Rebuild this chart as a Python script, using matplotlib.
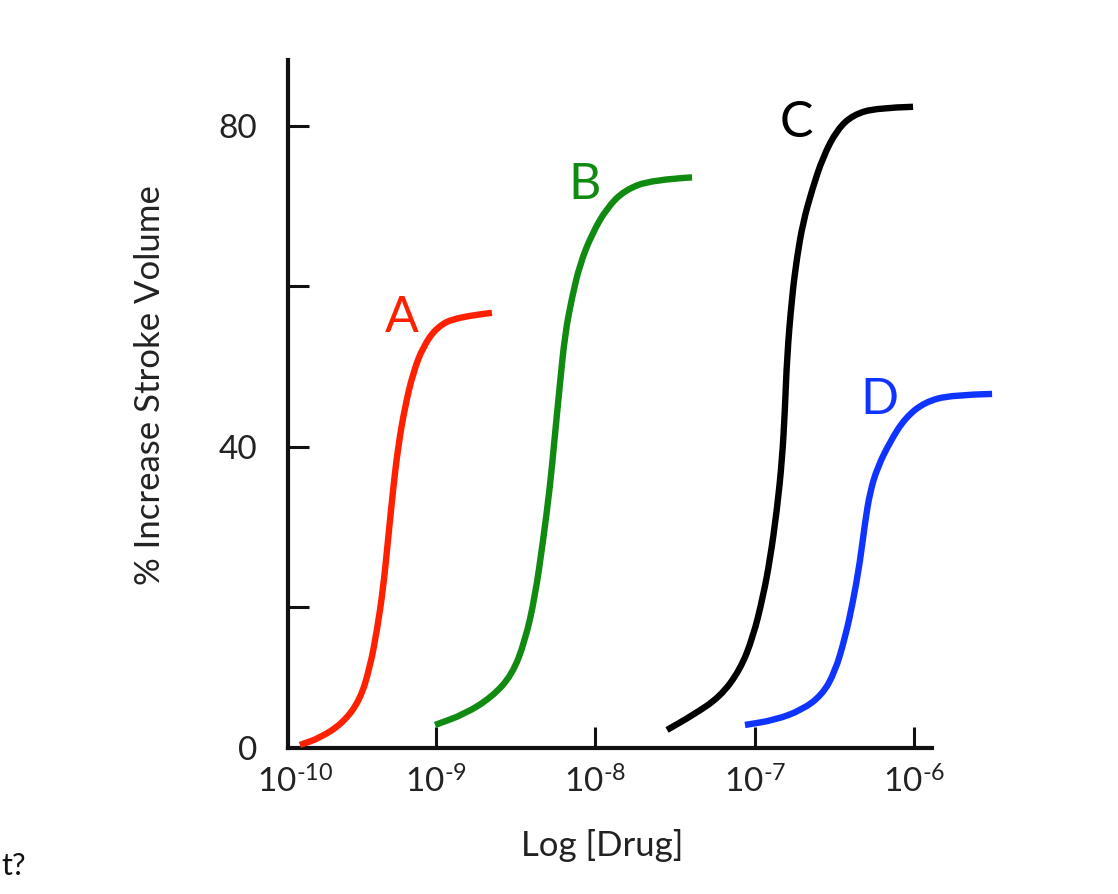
import matplotlib
matplotlib.use("Agg")
import matplotlib.pyplot as plt
from matplotlib.path import Path
from matplotlib.patches import PathPatch

plt.rcParams['font.family'] = ['Lato', 'DejaVu Sans']
plt.rcParams['mathtext.fontset'] = 'custom'
plt.rcParams['mathtext.rm'] = 'Lato'
plt.rcParams['mathtext.it'] = 'Lato'
plt.rcParams['mathtext.bf'] = 'Lato'

# ---- data (x = log10 [Drug], y = % increase stroke volume) ----
a_x = [-9.854, -9.728, -9.584, -9.477, -9.414, -9.370, -9.333, -9.301, -9.270,
       -9.238, -9.195, -9.144, -9.082, -8.994, -8.868, -8.649]
a_y = [2.87, 3.74, 5.61, 8.47, 12.59, 17.20, 22.18, 28.41, 34.64,
       40.0, 44.98, 49.22, 52.46, 54.95, 56.2, 56.7]

b_x = [-9.006, -8.818, -8.649, -8.523, -8.441, -8.379, -8.328, -8.284, -8.253,
       -8.221, -8.190, -8.146, -8.096, -8.021, -7.927, -7.814, -7.644, -7.393]
b_y = [5.36, 6.73, 8.85, 11.59, 15.83, 21.31, 28.29, 35.14, 41.62,
       48.10, 54.08, 58.69, 62.80, 66.54, 69.78, 72.02, 73.27, 73.58]

c_x = [-7.550, -7.387, -7.218, -7.092, -7.010, -6.948, -6.904, -6.860, -6.828,
       -6.810, -6.797, -6.766, -6.734, -6.697, -6.640, -6.571, -6.483, -6.383,
       -6.232, -6.006]
c_y = [4.74, 6.60, 8.85, 12.21, 16.32, 21.31, 25.92, 32.15, 38.38,
       44.61, 51.21, 58.69, 63.68, 67.91, 72.02, 76.14, 79.50, 81.37,
       82.24, 82.37]

d_x = [-7.061, -6.872, -6.703, -6.577, -6.496, -6.433, -6.383, -6.339, -6.307,
       -6.276, -6.230, -6.151, -6.056, -5.931, -5.761, -5.510]
d_y = [5.36, 5.98, 7.23, 9.10, 11.96, 16.20, 20.69, 25.67, 30.65,
       34.39, 37.40, 40.62, 43.61, 45.61, 46.48, 46.60]

curve_names = ['A', 'B', 'C', 'D']
label_x = [-9.213, -8.065, -6.741, -6.220]
label_y = [56.07, 72.65, 80.37, 45.86]

x_tick_pos = [-9.885, -9, -8, -7, -6]
x_tick_labels = ['$10^{\u201010}$', '$10^{\u20109}$', '$10^{\u20108}$',
                 '$10^{\u20107}$', '$10^{\u20106}$']
y_tick_pos = [2.49, 20, 40, 60, 80]
y_tick_labels = ['0', '', '40', '', '80']

colors = ['#ff2000', '#108a10', '#000000', '#1034ff']


def smooth_path(xs, ys):
    """Quadratic Bezier through midpoints of the read points (smooth stroke)."""
    pts = list(zip(xs, ys))
    verts = [pts[0]]
    codes = [Path.MOVETO]
    mid = ((pts[0][0] + pts[1][0]) / 2, (pts[0][1] + pts[1][1]) / 2)
    verts.append(mid)
    codes.append(Path.LINETO)
    for i in range(1, len(pts) - 1):
        nxt = ((pts[i][0] + pts[i + 1][0]) / 2, (pts[i][1] + pts[i + 1][1]) / 2)
        if i == len(pts) - 2:
            nxt = pts[i + 1]
        verts += [pts[i], nxt]
        codes += [Path.CURVE3, Path.CURVE3]
    return Path(verts, codes)


# ---- figure ----
fig = plt.figure(figsize=(11.18, 8.94), dpi=100)
ax = fig.add_axes([288/1118, 1-748/894, (932-288)/1118, (748-60)/894])

series = [(a_x, a_y), (b_x, b_y), (c_x, c_y), (d_x, d_y)]
for (xs, ys), col, name, lx, ly in zip(series, colors, curve_names, label_x, label_y):
    patch = PathPatch(smooth_path(xs, ys), facecolor='none', edgecolor=col,
                      lw=4.6, capstyle='butt', joinstyle='round', clip_on=False, zorder=3)
    ax.add_patch(patch)
    ax.text(lx, ly, name, color=col, fontsize=36, ha='center', va='center')

ax.set_xlim(-9.929, -5.887)
ax.set_ylim(2.49, 88.2)

for s in ['top', 'right']:
    ax.spines[s].set_visible(False)
for s in ['left', 'bottom']:
    ax.spines[s].set_linewidth(3)
    ax.spines[s].set_color('#111111')

ax.set_xticks(x_tick_pos)
ax.set_xticklabels(x_tick_labels)
ax.set_yticks(y_tick_pos)
ax.set_yticklabels(y_tick_labels)
ax.tick_params(axis='both', direction='in', length=15, width=2.2, color='#111111',
               labelsize=24, labelcolor='#222222')
ax.tick_params(axis='x', pad=13)
ax.tick_params(axis='y', pad=22)
ax.xaxis.get_major_ticks()[0].tick1line.set_visible(False)
ax.yaxis.get_major_ticks()[0].tick1line.set_visible(False)

fig.text(150/1118, 1-385/894, '% Increase Stroke Volume', rotation=90,
         ha='center', va='center', fontsize=25, color='#222222')
fig.text(602/1118, 1-845/894, 'Log [Drug]', ha='center', va='center',
         fontsize=25, color='#222222')
fig.text(1/1118, 1-866/894, 't?', ha='left', va='center', fontsize=22,
         color='#111111')

fig.savefig('out.png', dpi=100)
